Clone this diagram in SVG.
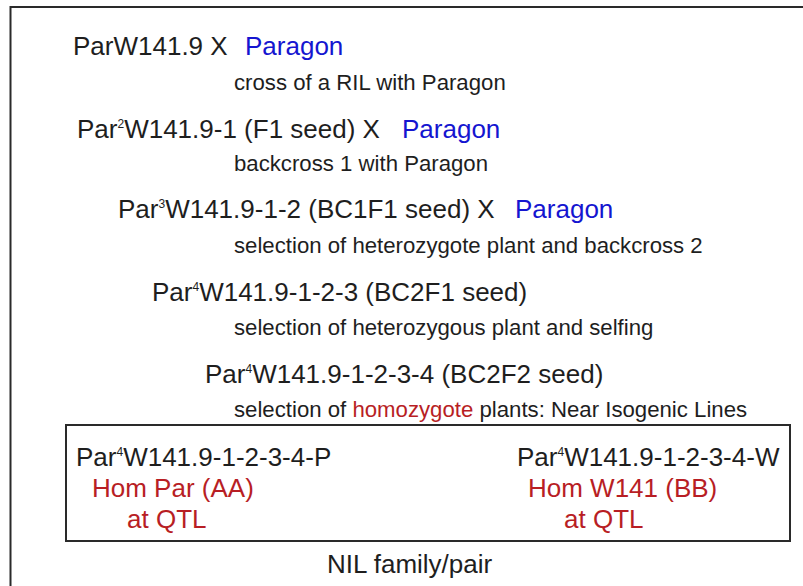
<svg xmlns="http://www.w3.org/2000/svg" width="803" height="586" viewBox="0 0 803 586">
<style>
text{font-family:"Liberation Sans",Arial,Helvetica,sans-serif;fill:#1e1e1e}
.m{font-size:26px}
.s{font-size:22.2px}
.b{fill:#1515d0}
.r{fill:#b81e24}
.sup{font-size:12px}
.frame{fill:none;stroke:#2a2a2a;stroke-width:2}
</style>
<rect width="803" height="586" fill="#fff"/>
<rect class="frame" x="10.5" y="7" width="900" height="700"/>
<g id="step1">
<text class="m" x="73" y="55">ParW141.9 X</text>
<text class="m b" x="245" y="55">Paragon</text>
<text class="s" x="234" y="89.5">cross of a RIL with Paragon</text>
</g>
<g id="step2">
<text class="m" x="77" y="138">Par<tspan class="sup" dy="-10">2</tspan><tspan dy="10">W141.9-1 (F1 seed) X</tspan></text>
<text class="m b" x="402" y="138">Paragon</text>
<text class="s" x="234" y="170.5">backcross 1 with Paragon</text>
</g>
<g id="step3">
<text class="m" x="118" y="218">Par<tspan class="sup" dy="-10">3</tspan><tspan dy="10">W141.9-1-2 (BC1F1 seed) X</tspan></text>
<text class="m b" x="515" y="218">Paragon</text>
<text class="s" x="234" y="253">selection of heterozygote plant and backcross 2</text>
</g>
<g id="step4">
<text class="m" x="152" y="300.5">Par<tspan class="sup" dy="-10">4</tspan><tspan dy="10">W141.9-1-2-3 (BC2F1 seed)</tspan></text>
<text class="s" x="234" y="335">selection of heterozygous plant and selfing</text>
</g>
<g id="step5">
<text class="m" x="205" y="383">Par<tspan class="sup" dy="-10">4</tspan><tspan dy="10">W141.9-1-2-3-4 (BC2F2 seed)</tspan></text>
<text class="s" x="234" y="416.5">selection of <tspan class="r">homozygote</tspan> plants: Near Isogenic Lines</text>
</g>
<g id="nil-pair">
<rect class="frame" x="66" y="425" width="724" height="116"/>
<g id="nil-P">
<text class="m" x="76" y="465.5">Par<tspan class="sup" dy="-10">4</tspan><tspan dy="10">W141.9-1-2-3-4-P</tspan></text>
<text class="m r" x="92" y="496.5">Hom Par (AA)</text>
<text class="m r" x="127" y="528">at QTL</text>
</g>
<g id="nil-W">
<text class="m" x="517" y="465.5">Par<tspan class="sup" dy="-10">4</tspan><tspan dy="10">W141.9-1-2-3-4-W</tspan></text>
<text class="m r" x="528" y="497">Hom W141 (BB)</text>
<text class="m r" x="564" y="528">at QTL</text>
</g>
<text class="m" x="327" y="573">NIL family/pair</text>
</g>
</svg>
